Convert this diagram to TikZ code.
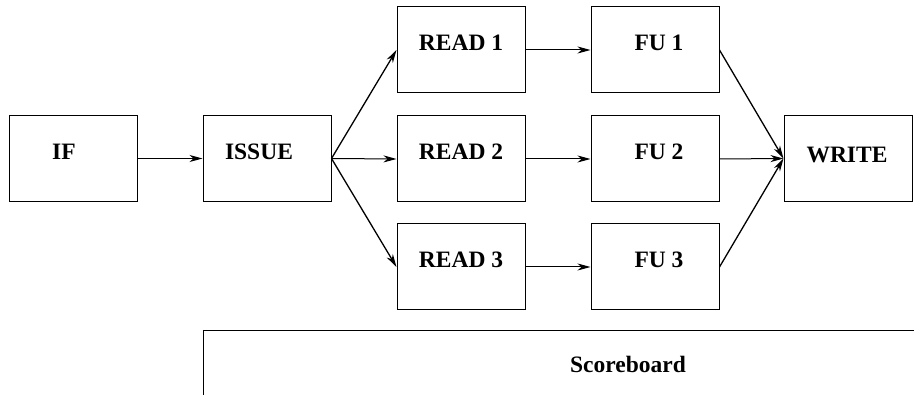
\documentclass[tikz,border=0pt]{standalone}
\usepackage{fontspec}
\setmainfont{Liberation Serif}
\usetikzlibrary{arrows.meta}
\tikzset{
  stagebox/.style={draw=black, line width=1pt, minimum width=128pt, minimum height=86pt, inner sep=0pt},
  lbl/.style={inner sep=0pt, anchor=base, font=\fontsize{23.5}{24}\selectfont\bfseries},
  flow/.style={line width=1pt, -{Stealth[length=13pt,width=7pt,inset=4pt]}},
}
\begin{document}
\begin{tikzpicture}[x=1pt,y=-1pt]
\useasboundingbox (0,0) rectangle (914,395);
% boxes
\node[stagebox] (if) at (73,158.5) {};
\node[stagebox] (issue) at (267,158.5) {};
\node[stagebox] (r1) at (461,50) {};
\node[stagebox] (r2) at (461,159) {};
\node[stagebox] (r3) at (461,267) {};
\node[stagebox] (f1) at (655,50) {};
\node[stagebox] (f2) at (655,159) {};
\node[stagebox] (f3) at (655,267) {};
\node[stagebox] (wr) at (848,158.5) {};
% labels
\node[lbl] (tif) at (64,160) {IF};
\node[lbl] (tissue) at (259,160) {ISSUE};
\node[lbl] (tr1) at (461,51) {READ 1};
\node[lbl] (tr2) at (461,159.5) {READ 2};
\node[lbl] (tr3) at (461,267.5) {READ 3};
\node[lbl] (tf1) at (659,51) {FU 1};
\node[lbl] (tf2) at (659,159.5) {FU 2};
\node[lbl] (tf3) at (659,267.5) {FU 3};
\node[lbl] (twr) at (847,163) {WRITE};
% scoreboard
\coordinate (sbl) at (203,400);
\coordinate (sbc) at (203,331);
\coordinate (sbr) at (920,331);
\draw[line width=1pt] (sbl) -- (sbc) -- (sbr);
\node[lbl] (tsb) at (628,373) {Scoreboard};
% connectors
\draw[flow] (if.east) -- (issue.west);
\draw[flow,line width=1.3pt] (issue.east) -- (r1.west);
\draw[flow] (issue.east) -- (r2.west);
\draw[flow,line width=1.3pt] (issue.east) -- (r3.west);
\draw[flow] (r1.east) -- (f1.west);
\draw[flow] (r2.east) -- (f2.west);
\draw[flow] (r3.east) -- (f3.west);
\draw[flow,line width=1.3pt] (f1.east) -- (wr.west);
\draw[flow] (f2.east) -- (wr.west);
\draw[flow,line width=1.3pt] (f3.east) -- (wr.west);
\end{tikzpicture}
\end{document}
